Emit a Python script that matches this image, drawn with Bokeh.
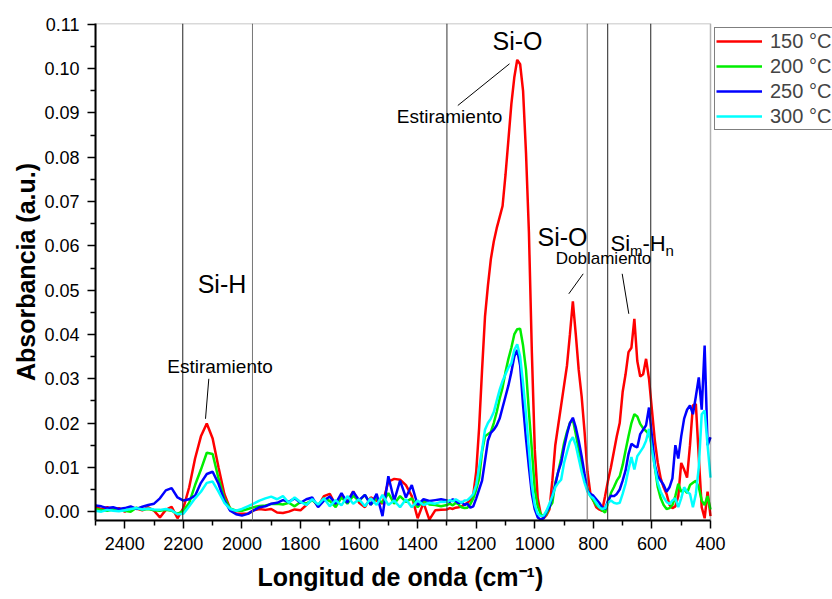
from bokeh.plotting import figure
from bokeh.models import (ColumnDataSource, FixedTicker, PrintfTickFormatter, Span, Label,
                          Legend, LegendItem, Range1d, Arrow, BoxAnnotation, Title)
from bokeh.embed import file_html
from bokeh.resources import INLINE

# ---------------- data (absorbance values in units of 1e-3) ----------------
wn_a = [2500, 2480, 2460, 2440, 2420, 2400, 2380, 2360, 2340, 2320,
        2300, 2280, 2260, 2240, 2220, 2200, 2180, 2160, 2140, 2120,
        2100, 2080, 2060, 2040, 2020, 2000, 1980, 1960, 1940, 1920,
        1900, 1880, 1860, 1840, 1820, 1800, 1780, 1760, 1740, 1720,
        1700, 1680, 1660, 1640, 1620, 1600, 1580, 1560, 1540, 1520,
        1500, 1480, 1460, 1440, 1420, 1400, 1380, 1360, 1340, 1320]
wn_b = [1300, 1290, 1280, 1270, 1260, 1250, 1240, 1230, 1220, 1210,
        1200, 1190, 1180, 1170, 1160, 1150, 1140, 1130, 1120, 1110,
        1100, 1090, 1080, 1070, 1060, 1050, 1040, 1030, 1020, 1010,
        1000, 990, 980, 970, 960, 950, 940, 930, 920, 910,
        900, 890, 880, 870, 860, 850, 840, 830, 820, 810,
        800, 790, 780, 770, 760, 750, 740, 730, 720, 710,
        700, 690, 680, 670, 660, 650, 640, 630, 620, 610,
        600, 590, 580, 570, 560, 550, 540, 530, 520, 510,
        500, 490, 480, 470, 460, 450, 440, 430, 420, 410,
        400]

red_150_a = [1.0, 0.6, 1.0, 0.4, 0.8, 0.0, 0.9, 0.7, 0.3, 1.0,
             0.2, -1.3, 0.4, 1.1, -1.5, 0.8, 5.5, 12.0, 17.0, 19.9,
             16.5, 10.0, 4.0, 0.6, -0.4, -0.5, -0.5, 0.3, 0.6, 0.4,
             0.6, -0.2, -0.3, 0.0, 0.5, 0.3, 1.5, 2.8, 1.2, 3.5,
             4.0, 1.5, 3.8, 2.2, 4.6, 2.0, 1.0, 3.2, 2.5, 1.8,
             6.8, 7.4, 7.2, 6.0, 3.5, -1.5, 2.0, -1.8, 0.3, 0.4]
red_150_b = [0.5, 0.8, 0.6, 0.9, 1.0, 1.2, 1.6, 2.0, 2.6, 3.8,
             9.0, 19.0, 32.0, 44.0, 51.0, 57.0, 61.0, 64.0, 66.5, 69.0,
             76.0, 84.0, 92.0, 98.0, 102.0, 101.0, 95.0, 81.0, 63.0, 36.0,
             14.0, 3.0, -0.5, -1.5, -0.8, 0.5, 7.0, 15.0, 19.5, 24.0,
             28.5, 33.0, 40.0, 47.5, 40.0, 32.0, 26.0, 18.0, 9.0, 4.0,
             2.5, 1.0, 0.5, 0.2, 3.5, 7.0, 10.0, 13.5, 17.0, 20.0,
             27.0, 31.0, 36.0, 37.0, 43.5, 34.0, 30.5, 31.0, 34.5, 30.0,
             23.0, 16.0, 11.0, 7.5, 5.5, 4.0, 1.5, 0.8, 1.2, 3.5,
             11.0, 9.5, 7.7, 15.0, 24.0, 24.3, 12.3, 1.0, -1.5, 4.5,
             -1.0]

green_200_a = [0.6, 0.4, 0.2, 0.5, 0.3, 0.2, 0.0, 0.9, 0.4, 0.6,
               0.3, 0.2, 0.4, 0.2, -0.5, 0.2, 2.0, 6.0, 9.5, 13.3,
               13.0, 7.5, 3.0, 0.7, 0.2, 0.2, 0.6, 1.0, 1.3, 1.4,
               1.7, 1.8, 1.6, 2.0, 1.2, 2.2, 1.8, 2.6, 1.5, 3.0,
               2.4, 1.0, 3.2, 1.8, 3.6, 2.4, 3.8, 1.6, 3.0, 2.0,
               4.2, 1.8, 3.5, 2.2, 3.0, 1.0, 2.5, 1.6, 1.5, 1.2]
green_200_b = [1.5, 1.8, 1.4, 2.0, 1.6, 1.0, 0.8, 0.9, 1.7, 3.0,
               5.0, 7.5, 13.5, 17.0, 17.5, 18.0, 20.0, 22.5, 25.5, 28.0,
               31.5, 34.5, 37.0, 40.0, 41.2, 41.3, 37.5, 32.0, 22.5, 14.0,
               5.0, 1.2, -0.5, -1.3, -0.5, 1.0, 2.0, 6.5, 9.0, 12.0,
               15.5, 18.0, 20.0, 20.8, 17.5, 14.0, 11.0, 8.0, 5.0, 3.5,
               2.5, 1.5, 1.0, 0.3, -0.2, 2.0, 4.2, 5.5, 7.0, 8.0,
               10.5, 13.8, 17.0, 20.0, 22.0, 21.5, 19.8, 18.8, 18.2, 17.5,
               15.0, 10.0, 5.5, 3.0, 1.5, 0.6, 0.8, 1.5, 3.5, 6.3,
               4.5, 5.0, 4.2, 6.0, 6.5, 7.0, 5.5, 2.5, 1.5, 3.5,
               0.5]

blue_250_a = [1.4, 1.2, 0.8, 1.0, 0.6, 0.8, 1.2, 0.6, 1.1, 1.5,
              1.8, 3.0, 4.8, 5.3, 3.2, 2.5, 2.8, 3.6, 6.5, 8.5,
              9.0, 6.3, 2.5, 0.2, -0.6, -0.9, -0.5, 0.3, 1.0, 1.2,
              1.8, 2.0, 2.6, 2.2, 3.0, 2.0, 2.8, 3.2, 1.0, 2.5,
              3.4, 1.8, 4.2, 2.0, 4.5, 2.6, 3.8, 1.5, 4.0, -1.0,
              8.0, 2.5, 7.0, 3.2, 6.0, 1.5, 2.8, 2.4, 2.6, 2.8]
blue_250_b = [2.5, 2.2, 2.8, 2.4, 1.9, 2.2, 1.5, 1.8, 0.9, 1.2,
              3.0, 5.0, 7.0, 11.5, 16.0, 17.8, 18.5, 19.5, 21.0, 23.5,
              26.0, 28.5, 31.5, 35.0, 36.5, 33.0, 24.0, 16.5, 10.0, 4.0,
              0.5, -1.3, -1.8, -1.5, 0.0, 1.0, 3.5, 6.0, 9.0, 11.0,
              14.5, 17.5, 20.0, 21.2, 19.0, 16.0, 12.5, 8.5, 4.7, 4.0,
              3.6, 2.8, 2.0, 1.0, 0.6, 2.5, 3.6, 3.5, 4.0, 5.0,
              7.0, 9.3, 13.0, 15.3, 14.8, 14.5, 17.5, 18.5, 19.5, 23.5,
              17.0, 10.5, 8.0, 7.0, 6.0, 4.5, 5.5, 7.5, 15.0, 12.0,
              17.0, 21.0, 23.0, 24.0, 22.0, 26.0, 30.3, 23.0, 37.5, 15.0,
              16.8]

cyan_300_a = [0.2, 0.0, 0.4, 0.2, 0.1, 0.3, 0.6, 0.8, 0.5, 0.7,
              0.5, 0.4, 0.6, 0.3, -0.6, -0.5, 1.2, 3.0, 4.5, 6.5,
              6.8, 4.5, 2.0, 0.6, 0.2, 0.6, 1.2, 1.8, 2.5, 3.0,
              3.4, 2.8, 3.5, 2.0, 3.2, 2.2, 1.5, 2.8, 1.6, 3.0,
              1.2, 2.6, 1.4, 3.5, 1.8, 2.8, 1.2, 3.0, 1.5, 3.8,
              1.5, 2.5, 1.0, 2.8, 1.0, 2.5, 1.5, 2.0, 1.8, 2.2]
cyan_300_b = [2.2, 2.6, 2.3, 2.8, 2.4, 2.0, 2.5, 2.6, 3.2, 4.0,
              6.0, 10.0, 14.0, 18.5, 20.0, 21.0, 22.5, 25.0, 27.5, 29.5,
              31.0, 32.5, 33.5, 36.5, 37.8, 35.0, 29.0, 22.0, 14.0, 6.0,
              1.5, -0.5, -1.0, -0.9, 0.2, 1.8, 3.5, 5.5, 6.5, 7.2,
              11.0, 13.5, 15.8, 16.8, 15.0, 12.0, 9.0, 6.5, 4.5, 3.5,
              3.0, 2.0, 1.0, 0.6, 0.8, 2.0, 2.5, 2.0, 1.8, 2.0,
              4.0, 6.3, 9.5, 12.3, 9.5, 12.5, 13.5, 14.5, 16.0, 18.7,
              14.0, 10.0, 6.5, 4.5, 3.2, 2.2, 1.7, 2.5, 3.0, 1.0,
              3.0, 5.5, 4.5, 4.0, 1.0, 4.0, 10.0, 22.0, 22.8, 15.0,
              7.7]

series_names = ["150 \u00b0C", "200 \u00b0C", "250 \u00b0C", "300 \u00b0C"]
series_colors = ["#ff0000", "#00ee00", "#0000ff", "#00ffff"]
series_values = [red_150_a + red_150_b, green_200_a + green_200_b,
                 blue_250_a + blue_250_b, cyan_300_a + cyan_300_b]
wavenumbers = wn_a + wn_b

x_limits = [2500, 400]
y_limits = [-0.002, 0.1102]
x_major = [2400, 2200, 2000, 1800, 1600, 1400, 1200, 1000, 800, 600, 400]
x_minor = [2500, 2300, 2100, 1900, 1700, 1500, 1300, 1100, 900, 700, 500]
y_major = [0.00, 0.01, 0.02, 0.03, 0.04, 0.05, 0.06, 0.07, 0.08, 0.09, 0.10, 0.11]
y_minor = [0.005, 0.015, 0.025, 0.035, 0.045, 0.055, 0.065, 0.075, 0.085, 0.095, 0.105]

vlines = [2202, 1964, 1300, 821, 751, 604]
vline_colors = ["#222222", "#777777", "#333333", "#777777", "#222222", "#222222"]

FONT = "Liberation Sans"

# geometry: plot box 615 px wide for 2500..400; frame extended to the right edge
# so that the legend (outside the plot box) can be drawn.
W, H = 832, 599
LEFT, TOP, BOTTOM = 95, 23, 79
BOX_W = 615
px_per_unit = BOX_W / (x_limits[0] - x_limits[1])
x_end = x_limits[1] - (W - LEFT - BOX_W) / px_per_unit

p = figure(width=W, height=H, x_range=Range1d(x_limits[0], x_end),
           y_range=Range1d(y_limits[0], y_limits[1]),
           output_backend="svg", toolbar_location=None,
           min_border_left=LEFT, min_border_right=0, min_border_top=TOP, min_border_bottom=BOTTOM)
p.grid.visible = False
p.outline_line_color = None
p.background_fill_color = "white"
p.border_fill_color = "white"

for loc, col in zip(vlines, vline_colors):
    p.add_layout(Span(location=loc, dimension="height", line_color=col, line_width=1))

renderers = []
for name, col, vals in zip(series_names, series_colors, series_values):
    src = ColumnDataSource(dict(x=wavenumbers, y=[v / 1000.0 for v in vals]))
    r = p.line("x", "y", source=src, line_color=col, line_width=2.5)
    renderers.append((name, r))

# plot box (top and right border)
p.add_layout(BoxAnnotation(left=x_limits[1], right=x_limits[0], fill_alpha=0,
                           line_color="black", line_width=1.5))

# axes
p.xaxis.ticker = FixedTicker(ticks=x_major, minor_ticks=x_minor)
p.xaxis.bounds = (x_limits[1], x_limits[0])
p.yaxis.ticker = FixedTicker(ticks=y_major, minor_ticks=y_minor)
p.yaxis.formatter = PrintfTickFormatter(format="%.2f")
for ax in (p.xaxis[0], p.yaxis[0]):
    ax.axis_line_width = 2
    ax.axis_line_color = "black"
    ax.major_tick_line_width = 1.5
    ax.minor_tick_line_width = 1.5
    ax.major_tick_out = 8
    ax.major_tick_in = 0
    ax.minor_tick_out = 5
    ax.minor_tick_in = 0
    ax.major_label_text_font = FONT
    ax.major_label_text_font_size = "18px"
    ax.major_label_text_color = "black"
p.xaxis.major_label_standoff = 8
p.yaxis.major_label_standoff = 8
p.yaxis.axis_label = "Absorbancia (a.u.)"
p.yaxis.axis_label_text_font = FONT
p.yaxis.axis_label_text_font_size = "25px"
p.yaxis.axis_label_text_font_style = "bold"
p.yaxis.axis_label_text_color = "black"
p.yaxis.axis_label_standoff = 1

# x-axis title, left-aligned so that it is centred under the plot box
p.add_layout(Title(text="Longitud de onda (cm\u207b\u00b9)", align="left", offset=162,
                   text_font=FONT, text_font_size="25px", text_font_style="bold",
                   text_color="black", standoff=17), "below")

# annotations (frame-relative screen positions)
ann = [("Si-O", 422, 480, "25px"), ("Estiramiento", 354, 404, "19px"),
       ("Si-H", 126.5, 237, "25px"), ("Estiramiento", 124.5, 154, "19px"),
       ("Si-O", 467, 284, "25px"), ("Doblamiento", 508, 262, "17px")]
for txt, xs, ys, fs in ann:
    p.add_layout(Label(x=xs, y=ys, x_units="screen", y_units="screen", text=txt,
                       text_font=FONT, text_font_size=fs, text_baseline="middle",
                       text_align="center", text_color="black"))
for txt, xs, ys, fs in [("Si", 515, 276.7, "22px"), ("m", 534.6, 270, "15px"),
                        ("-H", 547, 276.7, "22px"), ("n", 570, 270, "15px")]:
    p.add_layout(Label(x=xs, y=ys, x_units="screen", y_units="screen", text=txt,
                       text_font=FONT, text_font_size=fs, text_baseline="alphabetic",
                       text_align="left", text_color="black"))

leaders = [(362.3, 415, 414, 456.7), (113.3, 141.7, 110, 101.7),
           (487.7, 246.7, 473.3, 226.7), (526.7, 246.7, 533.3, 206.7)]
for x0, y0, x1, y1 in leaders:
    p.add_layout(Arrow(x_start=x0, y_start=y0, x_end=x1, y_end=y1, start_units="screen",
                       end_units="screen", end=None, line_color="black", line_width=1))

legend = Legend(items=[LegendItem(label=n, renderers=[r]) for n, r in renderers],
                location=(619, 390), label_text_font=FONT, label_text_font_size="20px",
                glyph_width=46, glyph_height=24, label_height=24, spacing=1, padding=1,
                margin=0, label_standoff=8, border_line_color="black", border_line_width=1,
                background_fill_alpha=1.0)
p.add_layout(legend)

open("out.html", "w").write(file_html(p, INLINE))
